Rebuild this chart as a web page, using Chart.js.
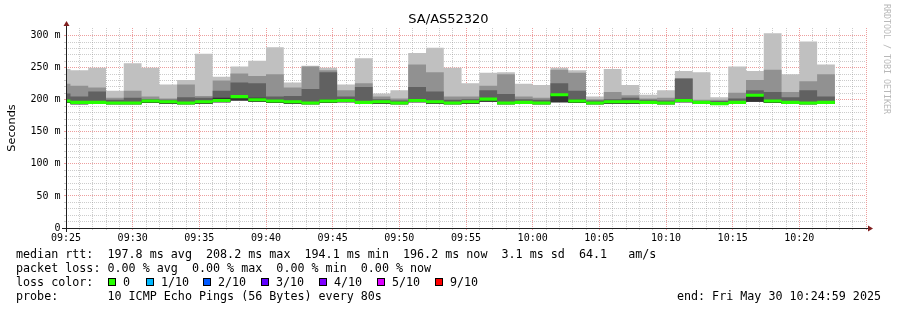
<!DOCTYPE html>
<html lang="en">
<head>
<meta charset="utf-8">
<title>SA/AS52320</title>
<script src="https://cdn.jsdelivr.net/npm/chart.js@4.4.1/dist/chart.umd.min.js"></script>
<style>
  html, body { margin: 0; padding: 0; background: #fff; }
  #kanvas { position: relative; width: 897px; height: 310px; overflow: hidden;
            font-family: "DejaVu Sans Mono", monospace; font-size: 11.7px; color: #000; }
  #kanvas canvas { position: absolute; left: 0; top: 0; }
  .teks { position: absolute; white-space: pre; line-height: 14px; }
  .kotak { position: absolute; width: 8px; height: 8px; box-sizing: border-box; border: 1px solid #000; }
  #judul { left: 0; width: 897px; top: 11px; text-align: center;
           font-family: "DejaVu Sans", sans-serif; font-size: 13px; line-height: 15px; }
  #tanda { left: 882px; top: 4px; writing-mode: vertical-rl; font-size: 8.3px; line-height: 9px; color: #b8b8b8; }
</style>
</head>
<body>
<div id="kanvas">
  <canvas id="chart-utama" width="897" height="310"></canvas>
  <div class="teks" id="judul">SA/AS52320</div>
  <div class="teks" id="tanda">RRDTOOL / TOBI OETIKER</div>

  <div class="teks" style="left:16px;top:247px">median rtt:  197.8 ms avg  208.2 ms max  194.1 ms min  196.2 ms now  3.1 ms sd  64.1   am/s</div>
  <div class="teks" style="left:16px;top:261px">packet loss: 0.00 % avg  0.00 % max  0.00 % min  0.00 % now</div>
  <div class="teks" style="left:16px;top:275px">loss color:</div>
  <div id="legenda"></div>
  <div class="teks" style="left:16px;top:289px">probe:       10 ICMP Echo Pings (56 Bytes) every 80s</div>
  <div class="teks" style="right:16px;top:289px">end: Fri May 30 10:24:59 2025</div>
</div>

<script>
// one smokeping step = 80 s; first entry is the partial step before 09:25
const waktu = ["09:24:00","09:25:20","09:26:40","09:28:00","09:29:20","09:30:40","09:32:00","09:33:20",
  "09:34:40","09:36:00","09:37:20","09:38:40","09:40:00","09:41:20","09:42:40","09:44:00","09:45:20",
  "09:46:40","09:48:00","09:49:20","09:50:40","09:52:00","09:53:20","09:54:40","09:56:00","09:57:20",
  "09:58:40","10:00:00","10:01:20","10:02:40","10:04:00","10:05:20","10:06:40","10:08:00","10:09:20",
  "10:10:40","10:12:00","10:13:20","10:14:40","10:16:00","10:17:20","10:18:40","10:20:00","10:21:20"];

// ms values
const rttMax = [248,246,250,214,257,250,224,231,272,236,252,261,282,227,253,250,224,265,210,215,273,281,
  250,226,242,243,225,223,250,246,205,248,223,208,215,245,243,204,252,245,304,240,291,255];
const smoke2Top = [225,222,219,203,214,205,202,224,206,230,241,237,240,219,252,246,215,226,205,202,255,243,
  205,205,222,240,205,203,247,242,201,212,207,202,203,234,200,200,211,231,247,212,229,240];
const smoke3Top = [210,205,213,200,203,201,200,204,203,214,227,226,205,206,217,243,205,220,201,199,220,213,
  200,201,215,209,201,200,226,214,199,201,203,200,199,233,198,198,202,215,212,204,215,205];
const smoke4Top = [199,197,197,196,196,199,198,196,198,203,207,203,199,198,196,200,201,197,198,196,200,198,
  196,198,202,196,197,196,208,200,196,198,198,197,196,201,197,195,197,208,199,197,196,196];
const rttMedian = [198,196,196,195,195,198,197,195,197,199,205,200,198,197,195,198,199,196,197,195,199,197,
  195,197,201,195,196,195,208,198,195,197,197,196,195,199,196,194,196,207,198,196,195,196];
const rttMin = [195,193,194,193,193,195,194,193,194,196,199,197,195,194,193,195,196,194,194,193,196,194,
  193,194,197,193,194,193,196,195,193,194,194,194,193,196,194,192,194,197,195,194,193,194];

const labelJam = ["09:25","09:30","09:35","09:40","09:45","09:50","09:55","10:00","10:05","10:10","10:15","10:20"];
const labelMs = ["0","50 m","100 m","150 m","200 m","250 m","300 m"];

const warnaLoss = ["#26ff00","#00b8ff","#0059ff","#5e00ff","#7e00ff","#dd00ff","#ff0000"];
const labelLoss = ["0","1/10","2/10","3/10","4/10","5/10","9/10"];

// legend boxes
const posKotak = [108, 146, 203, 261, 319, 377, 435];
const legenda = document.getElementById("legenda");
labelLoss.forEach((lbl, i) => {
    const k = document.createElement("div");
    k.className = "kotak";
    k.style.left = posKotak[i] + "px";
    k.style.top = "278px";
    k.style.background = warnaLoss[i];
    legenda.appendChild(k);
    const t = document.createElement("div");
    t.className = "teks";
    t.style.left = (posKotak[i] + 15) + "px";
    t.style.top = "275px";
    t.textContent = lbl;
    legenda.appendChild(t);
});

const LANGKAH = 80;
const TEBAL_MEDIAN = 2.4; // half height of the median band, in ms
const awal = 9 * 3600 + 25 * 60;
const detik = waktu.map((t) => {
    const [h, m, s] = t.split(":").map(Number);
    return h * 3600 + m * 60 + s - awal;
});

function seri(nilai, geser = 0) {
    const pts = detik.map((x, i) => ({ x: x, y: nilai[i] + geser }));
    pts.push({ x: detik[detik.length - 1] + LANGKAH, y: nilai[nilai.length - 1] + geser });
    return pts;
}

function garisStep(label, data, warna, target) {
    return {
        label: label,
        data: data,
        stepped: true,
        borderWidth: 0,
        borderColor: "transparent",
        pointRadius: 0,
        backgroundColor: warna || "transparent",
        fill: target === undefined ? false : { target: target },
    };
}

const GRID_MINOR = "rgba(143,143,143,0.45)";
const GRID_MAJOR = "rgba(222,79,79,0.55)";

const sumbuPanah = {
    id: "sumbuPanah",
    afterDraw(chart) {
        const { ctx, chartArea: a } = chart;
        const yb = a.bottom + 0.5;
        const xl = a.left + 0.5;
        ctx.save();
        ctx.strokeStyle = "#1f1f1f";
        ctx.lineWidth = 1;
        ctx.beginPath();
        ctx.moveTo(a.left - 4, yb);
        ctx.lineTo(a.right + 4, yb);
        ctx.moveTo(xl, a.bottom + 4);
        ctx.lineTo(xl, a.top - 4);
        ctx.stroke();
        ctx.fillStyle = "#801f1f";
        ctx.beginPath();
        ctx.moveTo(a.right + 2, yb - 3);
        ctx.lineTo(a.right + 2, yb + 3);
        ctx.lineTo(a.right + 7, yb);
        ctx.closePath();
        ctx.fill();
        ctx.beginPath();
        ctx.moveTo(xl - 3, a.top - 2);
        ctx.lineTo(xl + 3, a.top - 2);
        ctx.lineTo(xl, a.top - 7);
        ctx.closePath();
        ctx.fill();
        ctx.restore();
    },
};

// index 0/1: median band, 2..5: smoke, 6: lowest ping (fill base)
const ctx = document.getElementById("chart-utama");
const mychart = new Chart(ctx, {
    type: "line",
    data: {
        datasets: [
            garisStep("median rtt", seri(rttMedian, TEBAL_MEDIAN), "#26ff00", 1),
            garisStep("median low", seri(rttMedian, -TEBAL_MEDIAN)),
            garisStep("smoke 4", seri(smoke4Top), "#323232", 6),
            garisStep("smoke 3", seri(smoke3Top), "#616161", 6),
            garisStep("smoke 2", seri(smoke2Top), "#919191", 6),
            garisStep("smoke 1", seri(rttMax), "#c0c0c0", 6),
            garisStep("min", seri(rttMin)),
        ],
    },
    options: {
        responsive: false,
        animation: false,
        events: [],
        layout: { padding: { top: 28, right: 31, bottom: 62, left: 0 } },
        plugins: {
            legend: { display: false },
            tooltip: { enabled: false },
            title: { display: false },
        },
        scales: {
            x: {
                type: "linear",
                min: 0,
                max: 3600,
                z: 1,
                afterFit: (s) => { s.height = 20; },
                ticks: {
                    stepSize: 60,
                    autoSkip: false,
                    maxRotation: 0,
                    minRotation: 0,
                    padding: 2,
                    color: "#000",
                    font: { family: "DejaVu Sans Mono", size: 10 },
                    callback: (v) => (v % 300 === 0 && labelJam[v / 300]) ? labelJam[v / 300] : "",
                },
                grid: {
                    color: (c) => (c.tick.value % 300 === 0 ? GRID_MAJOR : GRID_MINOR),
                    tickLength: 2,
                },
                border: { display: false, dash: [1, 1] },
            },
            y: {
                min: 0,
                max: 312,
                z: 1,
                afterFit: (s) => { s.width = 66; },
                title: {
                    display: true,
                    text: "Seconds",
                    color: "#000",
                    font: { family: "DejaVu Sans", size: 11.3 },
                    padding: { top: 5, bottom: 0 },
                },
                ticks: {
                    stepSize: 10,
                    autoSkip: false,
                    padding: 3.5,
                    color: "#000",
                    font: { family: "DejaVu Sans Mono", size: 10 },
                    callback: (v) => (v % 50 === 0 && labelMs[v / 50]) ? labelMs[v / 50] : "",
                },
                grid: {
                    color: (c) => {
                        const v = c.tick.value;
                        if (v % 10 !== 0) return "transparent";
                        return v % 50 === 0 ? GRID_MAJOR : GRID_MINOR;
                    },
                    tickLength: 2,
                },
                border: { display: false, dash: [1, 1] },
            },
        },
    },
    plugins: [sumbuPanah],
});
</script>
</body>
</html>
